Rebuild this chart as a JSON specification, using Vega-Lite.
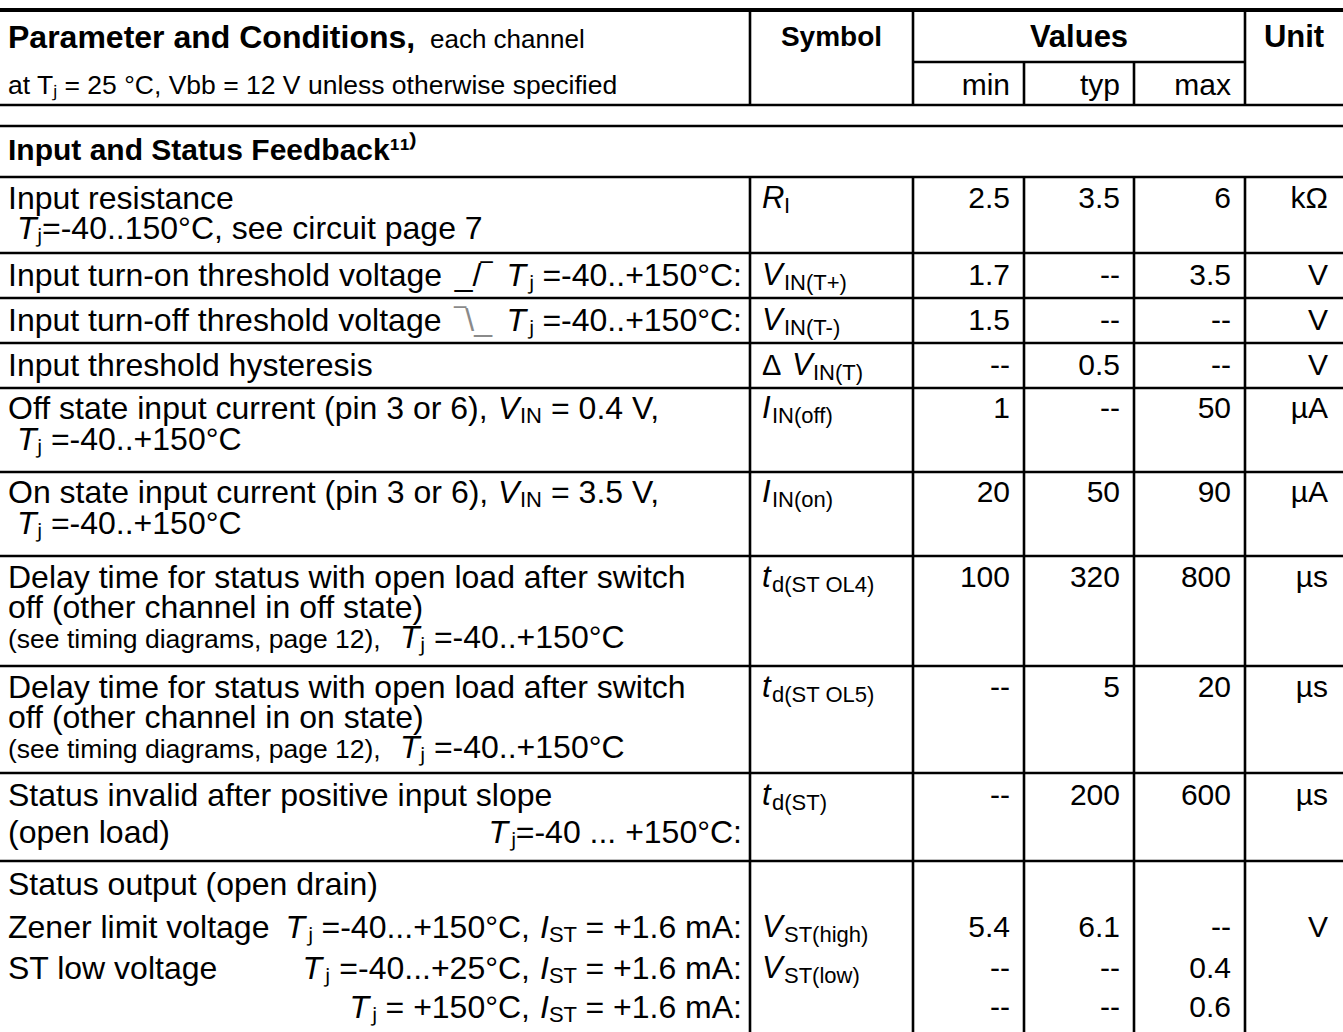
{
  "$schema": "https://vega.github.io/schema/vega-lite/v6.json",
  "width": 1343,
  "height": 1032,
  "autosize": {"type": "none"},
  "padding": 0,
  "background": "white",
  "config": {
    "view": {"stroke": null},
    "text": {"font": "Liberation Sans", "fill": "black", "baseline": "middle"}
  },
  "datasets": {
    "hrules": [
      {"slot": 4, "c0": 0, "c1": 6}, {"slot": 5, "c0": 0, "c1": 6}, {"slot": 7, "c0": 0, "c1": 6},
      {"slot": 10, "c0": 0, "c1": 6}, {"slot": 12, "c0": 0, "c1": 6}, {"slot": 14, "c0": 0, "c1": 6},
      {"slot": 16, "c0": 0, "c1": 6}, {"slot": 19, "c0": 0, "c1": 6}, {"slot": 22, "c0": 0, "c1": 6},
      {"slot": 26, "c0": 0, "c1": 6}, {"slot": 30, "c0": 0, "c1": 6}, {"slot": 33, "c0": 0, "c1": 6},
      {"slot": 2, "c0": 2, "c1": 5}
    ],
    "vrules": [
      {"col": 1, "a": 0, "b": 4}, {"col": 2, "a": 0, "b": 4}, {"col": 5, "a": 0, "b": 4},
      {"col": 3, "a": 2, "b": 4}, {"col": 4, "a": 2, "b": 4},
      {"col": 1, "a": 7, "b": 38}, {"col": 2, "a": 7, "b": 38}, {"col": 3, "a": 7, "b": 38},
      {"col": 4, "a": 7, "b": 38}, {"col": 5, "a": 7, "b": 38}
    ],
    "plines": [
      {"slot": 8, "text": "Input resistance"},
      {"slot": 11, "text": "Input turn-on threshold voltage"},
      {"slot": 13, "text": "Input turn-off threshold voltage"},
      {"slot": 15, "text": "Input threshold hysteresis"},
      {"slot": 23, "text": "Delay time for status with open load after switch"},
      {"slot": 24, "text": "off (other channel in off state)"},
      {"slot": 27, "text": "Delay time for status with open load after switch"},
      {"slot": 28, "text": "off (other channel in on state)"},
      {"slot": 31, "text": "Status invalid after positive input slope"},
      {"slot": 32, "text": "\u00a0(open load)"},
      {"slot": 34, "text": "Status output (open drain)"},
      {"slot": 35, "text": "\u00a0Zener limit voltage"},
      {"slot": 36, "text": "\u00a0ST low voltage"}
    ],
    "tlines": [
      {"slot": 9, "rest": "\u2c7c=-40..150°C, see circuit page 7"},
      {"slot": 18, "rest": "\u2c7c =-40..+150°C"},
      {"slot": 21, "rest": "\u2c7c =-40..+150°C"}
    ],
    "vinlines": [
      {"slot": 17, "head": "Off state input current (pin 3 or 6),", "sym": "V", "sub": "IN", "tail": "= 0.4 V,"},
      {"slot": 20, "head": "On state input current (pin 3 or 6),", "sym": "V", "sub": "IN", "tail": "= 3.5 V,"}
    ],
    "edges": [
      {"slot": 11, "edge": "rising", "glyph": "_/\u203e", "rest": "\u2c7c =-40..+150°C:"},
      {"slot": 13, "edge": "falling", "glyph": "\u203e\\_", "rest": "\u2c7c =-40..+150°C:"}
    ],
    "openload": [
      {"slot": 32, "rest": "\u2c7c=-40 ... +150°C:"}
    ],
    "istconds": [
      {"slot": 35, "head": "\u2c7c =-40...+150°C,", "sym": "I", "sub": "ST", "tail": "\u00a0= +1.6 mA:"},
      {"slot": 36, "head": "\u2c7c =-40...+25°C,", "sym": "I", "sub": "ST", "tail": "\u00a0= +1.6 mA:"},
      {"slot": 37, "head": "\u2c7c = +150°C,", "sym": "I", "sub": "ST", "tail": "\u00a0= +1.6 mA:"}
    ],
    "notes": [
      {"slot": 25, "text": "\u00a0(see timing diagrams, page 12),", "rest": "\u2c7c =-40..+150°C"},
      {"slot": 29, "text": "\u00a0(see timing diagrams, page 12),", "rest": "\u2c7c =-40..+150°C"}
    ],
    "syms": [
      {"slot": 8, "pre": "", "main": "R", "sub": "I"},
      {"slot": 11, "pre": "", "main": "V", "sub": "IN(T+)"},
      {"slot": 13, "pre": "", "main": "V", "sub": "IN(T-)"},
      {"slot": 15, "pre": "\u0394", "main": "V", "sub": "IN(T)"},
      {"slot": 17, "pre": "", "main": "I", "sub": "IN(off)"},
      {"slot": 20, "pre": "", "main": "I", "sub": "IN(on)"},
      {"slot": 23, "pre": "", "main": "t", "sub": "d(ST OL4)"},
      {"slot": 27, "pre": "", "main": "t", "sub": "d(ST OL5)"},
      {"slot": 31, "pre": "", "main": "t", "sub": "d(ST)"},
      {"slot": 35, "pre": "", "main": "V", "sub": "ST(high)"},
      {"slot": 36, "pre": "", "main": "V", "sub": "ST(low)"}
    ],
    "vals": [
      {"slot": 8, "min": "2.5", "typ": "3.5", "max": "6", "unit": "k\u03a9"},
      {"slot": 11, "min": "1.7", "typ": "--", "max": "3.5", "unit": "V"},
      {"slot": 13, "min": "1.5", "typ": "--", "max": "--", "unit": "V"},
      {"slot": 15, "min": "--", "typ": "0.5", "max": "--", "unit": "V"},
      {"slot": 17, "min": "1", "typ": "--", "max": "50", "unit": "\u00b5A"},
      {"slot": 20, "min": "20", "typ": "50", "max": "90", "unit": "\u00b5A"},
      {"slot": 23, "min": "100", "typ": "320", "max": "800", "unit": "\u00b5s"},
      {"slot": 27, "min": "--", "typ": "5", "max": "20", "unit": "\u00b5s"},
      {"slot": 31, "min": "--", "typ": "200", "max": "600", "unit": "\u00b5s"},
      {"slot": 35, "min": "5.4", "typ": "6.1", "max": "--", "unit": "V"},
      {"slot": 36, "min": "--", "typ": "--", "max": "0.4", "unit": ""},
      {"slot": 37, "min": "--", "typ": "--", "max": "0.6", "unit": ""}
    ]
  },
  "layer": [
    {
      "data": {"name": "hrules"},
      "mark": {"type": "rule", "stroke": "black", "strokeWidth": 2.6},
      "encoding": {
        "x": {"field": "c0", "type": "quantitative", "axis": null, "scale": {"type": "linear", "domain": [0, 1, 2, 3, 4, 5, 6], "range": [0, 750, 913, 1024, 1134, 1245, 1343], "nice": false, "zero": false}},
        "x2": {"field": "c1"},
        "y": {"field": "slot", "type": "quantitative", "axis": null, "scale": {"type": "linear", "domain": [0,1,2,3,4,5,6,7,8,9,10,11,12,13,14,15,16,17,18,19,20,21,22,23,24,25,26,27,28,29,30,31,32,33,34,35,36,37,38], "range": [10,38,62,86,105,126,151,177,199,229,253,276,298,321,343,366,388,409,440,472,493,524,556,578,608,638,666,688,718,748,773,796,833,861,885,928,969,1008,1032], "nice": false, "zero": false}}
      }
    },
    {
      "data": {"values": [{"slot": 0, "c0": 0, "c1": 6}]},
      "mark": {"type": "rule", "stroke": "black", "strokeWidth": 4},
      "encoding": {
        "x": {"field": "c0", "type": "quantitative", "axis": null},
        "x2": {"field": "c1"},
        "y": {"field": "slot", "type": "quantitative", "axis": null}
      }
    },
    {
      "data": {"name": "vrules"},
      "mark": {"type": "rule", "stroke": "black", "strokeWidth": 2.6},
      "encoding": {
        "x": {"field": "col", "type": "quantitative", "axis": null},
        "y": {"field": "a", "type": "quantitative", "axis": null},
        "y2": {"field": "b"}
      }
    },
    {
      "data": {"values": [{"col": 0, "slot": 1, "text": "Parameter and Conditions,"}]},
      "mark": {"type": "text", "align": "left", "dx": 8, "fontSize": 32, "fontWeight": "bold"},
      "encoding": {
        "x": {"field": "col", "type": "quantitative", "axis": null},
        "y": {"field": "slot", "type": "quantitative", "axis": null},
        "text": {"field": "text"}
      }
    },
    {
      "data": {"values": [{"col": 0, "slot": 1, "text": "each channel"}]},
      "mark": {"type": "text", "align": "left", "dx": 430, "dy": 2, "fontSize": 26},
      "encoding": {
        "x": {"field": "col", "type": "quantitative", "axis": null},
        "y": {"field": "slot", "type": "quantitative", "axis": null},
        "text": {"field": "text"}
      }
    },
    {
      "data": {"values": [{"col": 1.5, "slot": 1, "text": "Symbol"}]},
      "mark": {"type": "text", "align": "center", "fontSize": 28, "fontWeight": "bold"},
      "encoding": {
        "x": {"field": "col", "type": "quantitative", "axis": null},
        "y": {"field": "slot", "type": "quantitative", "axis": null},
        "text": {"field": "text"}
      }
    },
    {
      "data": {"values": [{"col": 3.5, "slot": 1, "text": "Values"}, {"col": 5.5, "slot": 1, "text": "Unit"}]},
      "mark": {"type": "text", "align": "center", "fontSize": 31, "fontWeight": "bold"},
      "encoding": {
        "x": {"field": "col", "type": "quantitative", "axis": null},
        "y": {"field": "slot", "type": "quantitative", "axis": null},
        "text": {"field": "text"}
      }
    },
    {
      "data": {"values": [{"col": 0, "slot": 3, "text": "at T\u2c7c = 25 °C, Vbb = 12 V unless otherwise specified"}]},
      "mark": {"type": "text", "align": "left", "dx": 8, "fontSize": 26.5},
      "encoding": {
        "x": {"field": "col", "type": "quantitative", "axis": null},
        "y": {"field": "slot", "type": "quantitative", "axis": null},
        "text": {"field": "text"}
      }
    },
    {
      "data": {"values": [{"col": 3, "slot": 3, "text": "min"}, {"col": 4, "slot": 3, "text": "typ"}, {"col": 5, "slot": 3, "text": "max"}]},
      "mark": {"type": "text", "align": "right", "dx": -14, "fontSize": 30},
      "encoding": {
        "x": {"field": "col", "type": "quantitative", "axis": null},
        "y": {"field": "slot", "type": "quantitative", "axis": null},
        "text": {"field": "text"}
      }
    },
    {
      "data": {"values": [{"col": 0, "slot": 6, "text": "Input and Status Feedback\u00b9\u00b9\u207e"}]},
      "mark": {"type": "text", "align": "left", "dx": 8, "fontSize": 30, "fontWeight": "bold"},
      "encoding": {
        "x": {"field": "col", "type": "quantitative", "axis": null},
        "y": {"field": "slot", "type": "quantitative", "axis": null},
        "text": {"field": "text"}
      }
    },
    {
      "data": {"name": "plines"},
      "mark": {"type": "text", "align": "left", "dx": 8, "fontSize": 32},
      "encoding": {
        "x": {"datum": 0, "type": "quantitative", "axis": null},
        "y": {"field": "slot", "type": "quantitative", "axis": null},
        "text": {"field": "text"}
      }
    },
    {
      "data": {"name": "tlines"},
      "mark": {"type": "text", "align": "left", "dx": 17, "fontSize": 32, "fontStyle": "italic"},
      "encoding": {
        "x": {"datum": 0, "type": "quantitative", "axis": null},
        "y": {"field": "slot", "type": "quantitative", "axis": null},
        "text": {"value": "T"}
      }
    },
    {
      "data": {"name": "tlines"},
      "mark": {"type": "text", "align": "left", "dx": 37, "fontSize": 32},
      "encoding": {
        "x": {"datum": 0, "type": "quantitative", "axis": null},
        "y": {"field": "slot", "type": "quantitative", "axis": null},
        "text": {"field": "rest"}
      }
    },
    {
      "data": {"name": "vinlines"},
      "mark": {"type": "text", "align": "left", "dx": 8, "fontSize": 32},
      "encoding": {
        "x": {"datum": 0, "type": "quantitative", "axis": null},
        "y": {"field": "slot", "type": "quantitative", "axis": null},
        "text": {"field": "head"}
      }
    },
    {
      "data": {"name": "vinlines"},
      "mark": {"type": "text", "align": "left", "dx": 498, "fontSize": 32, "fontStyle": "italic"},
      "encoding": {
        "x": {"datum": 0, "type": "quantitative", "axis": null},
        "y": {"field": "slot", "type": "quantitative", "axis": null},
        "text": {"field": "sym"}
      }
    },
    {
      "data": {"name": "vinlines"},
      "mark": {"type": "text", "align": "left", "dx": 520, "dy": 7, "fontSize": 22},
      "encoding": {
        "x": {"datum": 0, "type": "quantitative", "axis": null},
        "y": {"field": "slot", "type": "quantitative", "axis": null},
        "text": {"field": "sub"}
      }
    },
    {
      "data": {"name": "vinlines"},
      "mark": {"type": "text", "align": "left", "dx": 551, "fontSize": 32},
      "encoding": {
        "x": {"datum": 0, "type": "quantitative", "axis": null},
        "y": {"field": "slot", "type": "quantitative", "axis": null},
        "text": {"field": "tail"}
      }
    },
    {
      "data": {"name": "edges"},
      "mark": {"type": "text", "align": "right", "dx": -8, "fontSize": 32},
      "encoding": {
        "x": {"datum": 1, "type": "quantitative", "axis": null},
        "y": {"field": "slot", "type": "quantitative", "axis": null},
        "text": {"field": "rest"}
      }
    },
    {
      "data": {"name": "edges"},
      "mark": {"type": "text", "align": "right", "dx": -224, "fontSize": 32, "fontStyle": "italic"},
      "encoding": {
        "x": {"datum": 1, "type": "quantitative", "axis": null},
        "y": {"field": "slot", "type": "quantitative", "axis": null},
        "text": {"value": "T"}
      }
    },
    {
      "data": {"name": "edges"},
      "mark": {"type": "text", "align": "right", "dx": -258, "fontSize": 32},
      "encoding": {
        "x": {"datum": 1, "type": "quantitative", "axis": null},
        "y": {"field": "slot", "type": "quantitative", "axis": null},
        "text": {"field": "glyph"},
        "color": {"field": "edge", "type": "nominal", "legend": null, "scale": {"domain": ["rising", "falling"], "range": ["#000000", "#8a8a8a"]}}
      }
    },
    {
      "data": {"name": "openload"},
      "mark": {"type": "text", "align": "right", "dx": -8, "fontSize": 32},
      "encoding": {
        "x": {"datum": 1, "type": "quantitative", "axis": null},
        "y": {"field": "slot", "type": "quantitative", "axis": null},
        "text": {"field": "rest"}
      }
    },
    {
      "data": {"name": "openload"},
      "mark": {"type": "text", "align": "right", "dx": -242, "fontSize": 32, "fontStyle": "italic"},
      "encoding": {
        "x": {"datum": 1, "type": "quantitative", "axis": null},
        "y": {"field": "slot", "type": "quantitative", "axis": null},
        "text": {"value": "T"}
      }
    },
    {
      "data": {"name": "istconds"},
      "mark": {"type": "text", "align": "right", "dx": -8, "fontSize": 32},
      "encoding": {
        "x": {"datum": 1, "type": "quantitative", "axis": null},
        "y": {"field": "slot", "type": "quantitative", "axis": null},
        "text": {"field": "tail"}
      }
    },
    {
      "data": {"name": "istconds"},
      "mark": {"type": "text", "align": "right", "dx": -173, "dy": 7, "fontSize": 22},
      "encoding": {
        "x": {"datum": 1, "type": "quantitative", "axis": null},
        "y": {"field": "slot", "type": "quantitative", "axis": null},
        "text": {"field": "sub"}
      }
    },
    {
      "data": {"name": "istconds"},
      "mark": {"type": "text", "align": "right", "dx": -201, "fontSize": 32, "fontStyle": "italic"},
      "encoding": {
        "x": {"datum": 1, "type": "quantitative", "axis": null},
        "y": {"field": "slot", "type": "quantitative", "axis": null},
        "text": {"field": "sym"}
      }
    },
    {
      "data": {"name": "istconds"},
      "mark": {"type": "text", "align": "right", "dx": -220, "fontSize": 32},
      "encoding": {
        "x": {"datum": 1, "type": "quantitative", "axis": null},
        "y": {"field": "slot", "type": "quantitative", "axis": null},
        "text": {"field": "head"}
      }
    },
    {
      "data": {"name": "istconds"},
      "transform": [{"filter": "datum.slot === 35"}],
      "mark": {"type": "text", "align": "right", "dx": -445, "fontSize": 32, "fontStyle": "italic"},
      "encoding": {
        "x": {"datum": 1, "type": "quantitative", "axis": null},
        "y": {"field": "slot", "type": "quantitative", "axis": null},
        "text": {"value": "T"}
      }
    },
    {
      "data": {"name": "istconds"},
      "transform": [{"filter": "datum.slot === 36"}],
      "mark": {"type": "text", "align": "right", "dx": -428, "fontSize": 32, "fontStyle": "italic"},
      "encoding": {
        "x": {"datum": 1, "type": "quantitative", "axis": null},
        "y": {"field": "slot", "type": "quantitative", "axis": null},
        "text": {"value": "T"}
      }
    },
    {
      "data": {"name": "istconds"},
      "transform": [{"filter": "datum.slot === 37"}],
      "mark": {"type": "text", "align": "right", "dx": -381, "fontSize": 32, "fontStyle": "italic"},
      "encoding": {
        "x": {"datum": 1, "type": "quantitative", "axis": null},
        "y": {"field": "slot", "type": "quantitative", "axis": null},
        "text": {"value": "T"}
      }
    },
    {
      "data": {"name": "notes"},
      "mark": {"type": "text", "align": "left", "dx": 8, "dy": 2, "fontSize": 26.5},
      "encoding": {
        "x": {"datum": 0, "type": "quantitative", "axis": null},
        "y": {"field": "slot", "type": "quantitative", "axis": null},
        "text": {"field": "text"}
      }
    },
    {
      "data": {"name": "notes"},
      "mark": {"type": "text", "align": "left", "dx": 400, "fontSize": 32, "fontStyle": "italic"},
      "encoding": {
        "x": {"datum": 0, "type": "quantitative", "axis": null},
        "y": {"field": "slot", "type": "quantitative", "axis": null},
        "text": {"value": "T"}
      }
    },
    {
      "data": {"name": "notes"},
      "mark": {"type": "text", "align": "left", "dx": 420, "fontSize": 32},
      "encoding": {
        "x": {"datum": 0, "type": "quantitative", "axis": null},
        "y": {"field": "slot", "type": "quantitative", "axis": null},
        "text": {"field": "rest"}
      }
    },
    {
      "data": {"name": "syms"},
      "transform": [{"filter": "datum.pre === ''"}],
      "mark": {"type": "text", "align": "left", "dx": 12, "fontSize": 31, "fontStyle": "italic"},
      "encoding": {
        "x": {"datum": 1, "type": "quantitative", "axis": null},
        "y": {"field": "slot", "type": "quantitative", "axis": null},
        "text": {"field": "main"}
      }
    },
    {
      "data": {"name": "syms"},
      "transform": [{"filter": "datum.pre !== ''"}],
      "mark": {"type": "text", "align": "left", "dx": 12, "fontSize": 29},
      "encoding": {
        "x": {"datum": 1, "type": "quantitative", "axis": null},
        "y": {"field": "slot", "type": "quantitative", "axis": null},
        "text": {"field": "pre"}
      }
    },
    {
      "data": {"name": "syms"},
      "transform": [{"filter": "datum.pre !== ''"}],
      "mark": {"type": "text", "align": "left", "dx": 42, "fontSize": 31, "fontStyle": "italic"},
      "encoding": {
        "x": {"datum": 1, "type": "quantitative", "axis": null},
        "y": {"field": "slot", "type": "quantitative", "axis": null},
        "text": {"field": "main"}
      }
    },
    {
      "data": {"name": "syms"},
      "transform": [{"filter": "datum.pre === '' && (datum.main === 'R' || datum.main === 'V')"}],
      "mark": {"type": "text", "align": "left", "dx": 34, "dy": 7, "fontSize": 22},
      "encoding": {
        "x": {"datum": 1, "type": "quantitative", "axis": null},
        "y": {"field": "slot", "type": "quantitative", "axis": null},
        "text": {"field": "sub"}
      }
    },
    {
      "data": {"name": "syms"},
      "transform": [{"filter": "datum.main === 'I' || datum.main === 't'"}],
      "mark": {"type": "text", "align": "left", "dx": 22, "dy": 7, "fontSize": 22},
      "encoding": {
        "x": {"datum": 1, "type": "quantitative", "axis": null},
        "y": {"field": "slot", "type": "quantitative", "axis": null},
        "text": {"field": "sub"}
      }
    },
    {
      "data": {"name": "syms"},
      "transform": [{"filter": "datum.pre !== ''"}],
      "mark": {"type": "text", "align": "left", "dx": 63, "dy": 7, "fontSize": 22},
      "encoding": {
        "x": {"datum": 1, "type": "quantitative", "axis": null},
        "y": {"field": "slot", "type": "quantitative", "axis": null},
        "text": {"field": "sub"}
      }
    },
    {
      "data": {"name": "vals"},
      "mark": {"type": "text", "align": "right", "dx": -14, "fontSize": 30},
      "encoding": {
        "x": {"datum": 3, "type": "quantitative", "axis": null},
        "y": {"field": "slot", "type": "quantitative", "axis": null},
        "text": {"field": "min"}
      }
    },
    {
      "data": {"name": "vals"},
      "mark": {"type": "text", "align": "right", "dx": -14, "fontSize": 30},
      "encoding": {
        "x": {"datum": 4, "type": "quantitative", "axis": null},
        "y": {"field": "slot", "type": "quantitative", "axis": null},
        "text": {"field": "typ"}
      }
    },
    {
      "data": {"name": "vals"},
      "mark": {"type": "text", "align": "right", "dx": -14, "fontSize": 30},
      "encoding": {
        "x": {"datum": 5, "type": "quantitative", "axis": null},
        "y": {"field": "slot", "type": "quantitative", "axis": null},
        "text": {"field": "max"}
      }
    },
    {
      "data": {"name": "vals"},
      "mark": {"type": "text", "align": "right", "dx": -15, "fontSize": 30},
      "encoding": {
        "x": {"datum": 6, "type": "quantitative", "axis": null},
        "y": {"field": "slot", "type": "quantitative", "axis": null},
        "text": {"field": "unit"}
      }
    }
  ]
}
